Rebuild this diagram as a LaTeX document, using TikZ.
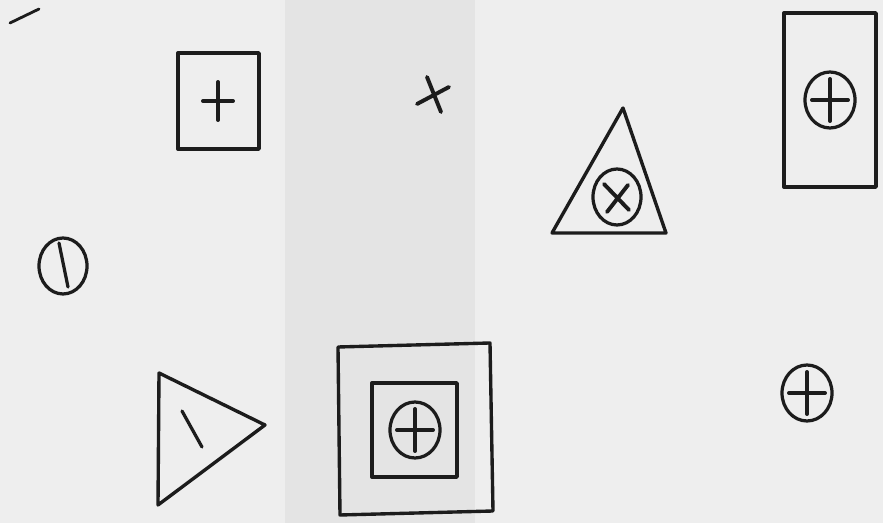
\documentclass[tikz,border=0pt]{standalone}
\usepackage{tikz}
\definecolor{Paper}{HTML}{EEEEEE}
\definecolor{Band}{HTML}{E4E4E4}
\definecolor{Ink}{HTML}{1C1C1C}

\begin{document}
\begin{tikzpicture}[x=0.025cm,y=-0.025cm,
frame/.style={draw=Ink,line width=2.4pt,line join=round},
mark line/.style={draw=Ink,line width=2.8pt,line cap=round},
ring/.style={draw=Ink,line width=2.3pt}]
% paper
\fill[Paper] (0,0) rectangle (883,523);
\fill[Band] (285,0) rectangle (475,523);
\useasboundingbox (0,0) rectangle (883,523);
% stroke top left
\draw[mark line,line width=2pt] (10,23) -- (39,9);
% box with plus
\draw[frame] (178,53) rectangle (259,149);
\draw[mark line] (203,101) -- (233,101) (218,82) -- (218,120);
% loose cross
\draw[mark line] (417,104) -- (449,87) (427,77) -- (441,112);
% triangle with circled cross
\draw[frame] (623,108) -- (666,233) -- (552,233) -- cycle;
\draw[ring] (617,197) ellipse [x radius=24,y radius=28];
\draw[mark line] (604,184) -- (629,210) (628,185) -- (607,212);
% tall box
\draw[frame] (784,13) rectangle (876,187);
% circle with stroke
\draw[ring] (63,266) ellipse [x radius=24,y radius=28];
\draw[mark line,line width=2.3pt] (59,243) -- (68,287);
% right pointing triangle
\draw[frame] (159,373) -- (265,425) -- (158,505) -- cycle;
\draw[mark line,line width=2.3pt] (182,411) -- (202,447);
% nested boxes
\draw[frame] (338,347) -- (490,343) -- (493,511) -- (340,515) -- cycle;
\draw[frame] (372,383) rectangle (457,477);
% circled plus marks
\foreach \cx/\cy in {830/100,415/430,807/393}{
  \draw[ring] (\cx,\cy) ellipse [x radius=25,y radius=28];
  \draw[mark line] (\cx-18,\cy) -- (\cx+18,\cy) (\cx,\cy-21) -- (\cx,\cy+21);
}
\end{tikzpicture}
\end{document}
